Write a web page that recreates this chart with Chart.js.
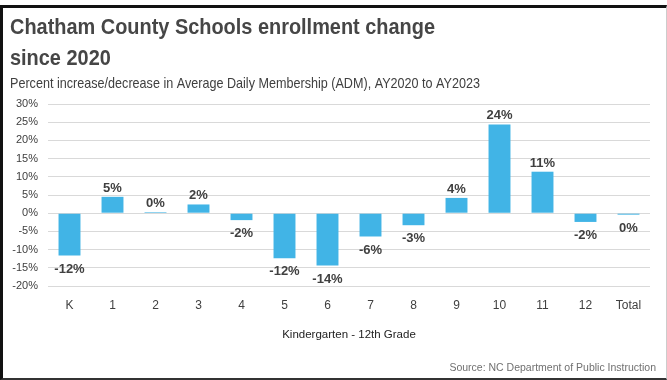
<!DOCTYPE html>
<html>
<head>
<meta charset="utf-8">
<script src="https://cdn.jsdelivr.net/npm/chart.js@4/dist/chart.umd.min.js"></script>
<style>
  html, body { margin: 0; padding: 0; background: #fff; }
  #wrap { position: relative; width: 667px; height: 380px; overflow: hidden; }
  #frame { position: absolute; left: 0; top: 5px; width: 667px; height: 375px;
           border-left: 3px solid #111; border-top: 3px solid #111;
           border-bottom: 2px solid #333; border-right: 1px solid #ccc; box-sizing: border-box; pointer-events: none; }
  #source { position: absolute; right: 11px; top: 361px; font: 10.5px "Liberation Sans", Arial, sans-serif; color: #707070; }
  canvas { position: absolute; left: 0; top: 0; }
</style>
</head>
<body>
<div id="wrap">
  <canvas id="barChart" width="667" height="380"></canvas>
  <div id="frame"></div>
  <div id="source">Source: NC Department of Public Instruction</div>
</div>
<script>
var grades = ["K", "1", "2", "3", "4", "5", "6", "7", "8", "9", "10", "11", "12", "Total"];
var pctChange = [-11.6, 4.5, 0.3, 2.4, -1.9, -12.4, -14.4, -6.4, -3.3, 4.2, 24.4, 11.4, -2.4, -0.4];
var yTicks = [-20, -15, -10, -5, 0, 5, 10, 15, 20, 25, 30];

var titleLines = ["Chatham County Schools enrollment change", "since 2020"];
var subTitle = "Percent increase/decrease in Average Daily Membership (ADM), AY2020 to AY2023";

var txtColor = "#404040";

// title + subtitle, squeezed horizontally to look like a condensed face
var header = {
  id: 'header',
  afterDraw: function(chart) {
    var ctx = chart.ctx;
    ctx.save();
    ctx.fillStyle = "#464646";
    ctx.textBaseline = "alphabetic";
    ctx.textAlign = "left";
    ctx.font = "bold 22px 'Liberation Sans', Arial, sans-serif";
    var s = 425 / ctx.measureText(titleLines[0]).width;
    ctx.save();
    ctx.translate(10, 34);
    ctx.scale(s, 1);
    ctx.fillText(titleLines[0], 0, 0);
    ctx.fillText(titleLines[1], 0, 31);
    ctx.restore();
    ctx.font = "15px 'Liberation Sans', Arial, sans-serif";
    ctx.fillStyle = txtColor;
    var s2 = 470 / ctx.measureText(subTitle).width;
    ctx.translate(10, 88);
    ctx.scale(s2, 1);
    ctx.fillText(subTitle, 0, 0);
    ctx.restore();
  }
};

// value labels above / below each bar
var barLabels = {
  id: 'barLabels',
  afterDatasetsDraw: function(chart) {
    var ctx = chart.ctx;
    var meta = chart.getDatasetMeta(0);
    ctx.save();
    ctx.font = "bold 13px 'Liberation Sans', Arial, sans-serif";
    ctx.fillStyle = txtColor;
    ctx.textAlign = "center";
    meta.data.forEach(function(bar, i) {
      var v = pctChange[i];
      var label = Math.round(v) + "%";
      if (v >= 0) {
        ctx.textBaseline = "alphabetic";
        ctx.fillText(label, bar.x, bar.y - 5);
      } else {
        ctx.textBaseline = "top";
        ctx.fillText(label, bar.x, bar.y + 7);
      }
    });
    ctx.restore();
  }
};

var ctx = document.getElementById("barChart");
var barChart = new Chart(ctx, {
  type: 'bar',
  data: {
    labels: grades,
    datasets: [{
      label: "Percent change",
      data: pctChange,
      backgroundColor: "#41b4e6",
      borderWidth: 0,
      barPercentage: 0.51,
      categoryPercentage: 1.0
    }]
  },
  options: {
    responsive: false,
    animation: false,
    layout: { padding: { left: 8, right: 17, top: 104, bottom: 0 } },
    plugins: {
      legend: { display: false },
      tooltip: { enabled: false }
    },
    scales: {
      x: {
        afterFit: function(axis) { axis.height = 94; },
        grid: { display: false },
        border: { display: false },
        ticks: { color: "#404040", font: { family: "'Liberation Sans', Arial, sans-serif", size: 12 }, padding: 4, maxRotation: 0 },
        title: {
          display: true,
          text: "Kindergarten - 12th Grade",
          color: "#222",
          font: { family: "'Liberation Sans', Arial, sans-serif", size: 11.5 },
          padding: { top: 0, bottom: 38 }
        }
      },
      y: {
        min: -20,
        max: 30,
        afterFit: function(axis) { axis.width = 40; },
        afterBuildTicks: function(axis) {
          axis.ticks = yTicks.map(function(v) { return { value: v }; });
        },
        grid: { color: "#d9d9d9", lineWidth: 1, drawTicks: false },
        border: { display: false },
        ticks: {
          color: "#404040",
          font: { family: "'Liberation Sans', Arial, sans-serif", size: 11 },
          padding: 10,
          callback: function(v) { return v + "%"; }
        }
      }
    }
  },
  plugins: [barLabels, header]
});
</script>
</body>
</html>
